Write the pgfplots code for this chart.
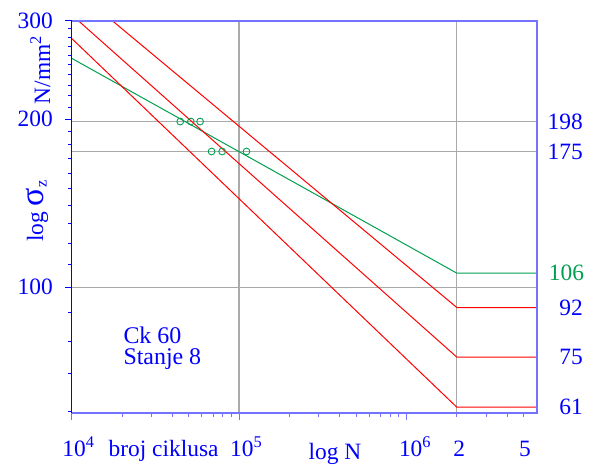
\documentclass[border=0pt]{standalone}
\usepackage{fontspec}
\setmainfont{Liberation Serif}
\usepackage{pgfplots}
\pgfplotsset{compat=1.18}
\definecolor{myblue}{RGB}{0,0,255}
\definecolor{lblue}{RGB}{115,115,255}
\definecolor{mygreen}{RGB}{0,160,80}
\definecolor{mygray}{RGB}{170,170,170}
\newcommand{\lbl}{\fontsize{23.5}{28}\selectfont}
\begin{document}
\begin{tikzpicture}
\useasboundingbox (-71.7bp,-52.7bp) rectangle (525.3bp,413.3bp);
\begin{axis}[at={(0bp,0bp)}, anchor=south west, scale only axis,
  width=465bp, height=392.6bp,
  xmode=log, ymode=log, xmin=1e4, xmax=6e6, ymin=59.5, ymax=300,
  axis line style={draw=none},
  xtick={1e4,1e5,1e6}, xticklabels={},
  minor xtick={2e4,3e4,4e4,5e4,6e4,7e4,8e4,9e4,2e5,3e5,4e5,5e5,6e5,7e5,8e5,9e5,2e6,3e6,4e6,5e6},
  ytick={100,200,300}, yticklabels={},
  minor ytick={60,70,80,90,110,120,130,140,150,160,170,180,190,210,220,230,240,250,260,270,280,290},
  tick align=outside, xtick pos=bottom, ytick pos=left,
  major tick length=6.5bp, minor tick length=3.5bp,
  x tick style={lblue, line width=1bp},
  y tick style={myblue, line width=1bp},
  clip=false]
% grid
\draw[mygray, line width=1.2bp] (axis cs:1e5,59.5) -- (axis cs:1e5,300);
\draw[mygray, line width=1.2bp] (axis cs:2e6,59.5) -- (axis cs:2e6,300);
\draw[mygray, line width=1.2bp] (axis cs:1e4,198) -- (axis cs:6e6,198);
\draw[mygray, line width=1.2bp] (axis cs:1e4,175) -- (axis cs:6e6,175);
\draw[mygray, line width=1.2bp] (axis cs:1e4,100) -- (axis cs:6e6,100);
% curves
\addplot[mygreen, line width=1bp] coordinates {(1e4,256.9) (2e6,106) (6e6,106)};
\addplot[red, line width=1bp] coordinates {(1e4,278.8) (2e6,61) (6e6,61)};
\addplot[red, line width=1bp] coordinates {(10950,300) (2e6,75) (6e6,75)};
\addplot[red, line width=1bp] coordinates {(17470,300) (2e6,92) (6e6,92)};
\addplot[only marks, mark=o, mygreen, mark size=3.4bp, mark options={line width=0.9bp}] coordinates {
 (44500,198) (51500,198) (58500,198) (68500,175) (79200,175) (110700,175)};
% frame
\draw[lblue, line width=2bp] (rel axis cs:0,0) -- (rel axis cs:1,0) -- (rel axis cs:1,1) -- (rel axis cs:0,1);
\draw[myblue, line width=1.5bp] (rel axis cs:0,0) -- (rel axis cs:0,1);
% left labels
\node[anchor=east, inner sep=0, text=myblue, font=\lbl] at (axis cs:1e4,300) [xshift=-18.7bp] {300};
\node[anchor=east, inner sep=0, text=myblue, font=\lbl] at (axis cs:1e4,200) [xshift=-18.7bp] {200};
\node[anchor=east, inner sep=0, text=myblue, font=\lbl] at (axis cs:1e4,100) [xshift=-18.7bp] {100};
% right labels
\node[anchor=east, inner sep=0, text=myblue, font=\lbl] at (axis cs:6e6,198) [xshift=46.3bp] {198};
\node[anchor=east, inner sep=0, text=myblue, font=\lbl] at (axis cs:6e6,175) [xshift=46.3bp] {175};
\node[anchor=east, inner sep=0, text=mygreen, font=\lbl] at (axis cs:6e6,106) [xshift=47.5bp] {106};
\node[anchor=east, inner sep=0, text=myblue, font=\lbl] at (axis cs:6e6,92) [xshift=46.3bp] {92};
\node[anchor=east, inner sep=0, text=myblue, font=\lbl] at (axis cs:6e6,75) [xshift=46.3bp] {75};
\node[anchor=east, inner sep=0, text=myblue, font=\lbl] at (axis cs:6e6,61) [xshift=46.3bp] {61};
\end{axis}
% bottom labels
\begin{scope}[every node/.style={inner sep=0, text=myblue, font=\lbl}]
\node[anchor=base west] at (-9.5bp,-43bp) {10\textsuperscript{4}};
\node[anchor=base west] at (158.3bp,-43bp) {10\textsuperscript{5}};
\node[anchor=base west] at (327.1bp,-43bp) {10\textsuperscript{6}};
\node[anchor=base] at (387.6bp,-43bp) {2};
\node[anchor=base] at (453.3bp,-43bp) {5};
\node[anchor=base west] at (36.8bp,-43bp) {broj ciklusa};
\node[anchor=base] at (263.3bp,-46bp) {log N};
\node[rotate=90, anchor=base] at (-21.7bp,343.3bp) {N/mm\textsuperscript{2}};
\node[rotate=90, anchor=base west] at (-28.7bp,171.3bp) {log {\fontsize{34}{34}\selectfont σ}\textsubscript{z}};
\node[anchor=base west, font=\fontsize{24}{28}\selectfont] at (51.6bp,70bp) {Ck 60};
\node[anchor=base west, font=\fontsize{24}{28}\selectfont] at (51.6bp,48.3bp) {Stanje 8};
\end{scope}
\end{tikzpicture}
\end{document}
